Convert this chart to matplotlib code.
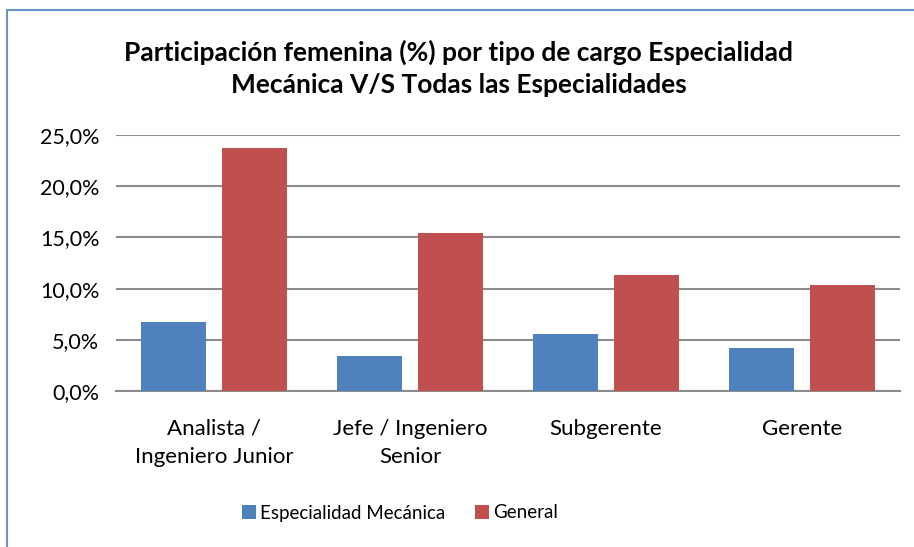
import matplotlib.pyplot as plt
import numpy as np
from matplotlib.patches import Rectangle
from matplotlib.ticker import FuncFormatter

plt.rcParams['font.family'] = ['Lato', 'DejaVu Sans']

categories = ['Analista /\nIngeniero Junior', 'Jefe / Ingeniero\nSenior', 'Subgerente', 'Gerente']
mecanica = [6.7, 3.4, 5.6, 4.2]
general = [23.7, 15.4, 11.3, 10.4]
series_names = ['Especialidad Mecánica', 'General']
yticks = [0, 5, 10, 15, 20, 25]

fig = plt.figure(figsize=(9.14, 5.47), dpi=100)
ax = fig.add_axes([116 / 914, 1 - 391 / 547, (900 - 116) / 914, (391 - 135) / 547])

x = np.arange(len(categories))
w = 0.33
ax.bar(x - w / 2 - 0.04, mecanica, w, color='#4F81BD', label=series_names[0], zorder=3)
ax.bar(x + w / 2 + 0.04, general, w, color='#C0504D', label=series_names[1], zorder=3)

ax.set_xlim(-0.5, len(categories) - 0.5)
ax.set_ylim(0, 25)
ax.set_yticks(yticks)
ax.yaxis.set_major_formatter(FuncFormatter(lambda v, p: f'{v:.1f}%'.replace('.', ',')))
ax.set_xticks(x)
ax.set_xticklabels(categories, fontsize=16, linespacing=1.5)
ax.tick_params(axis='y', labelsize=15.5, length=0, pad=12)
ax.tick_params(axis='x', length=0, pad=20)
ax.grid(axis='y', color='#8C8C8C', linewidth=1.5, zorder=0)
for s in ['top', 'right', 'left']:
    ax.spines[s].set_visible(False)
ax.spines['bottom'].set_color('#8C8C8C')
ax.spines['bottom'].set_linewidth(1.5)

fig.text(459 / 914, 1 - 68 / 547, 'Participación femenina (%) por tipo de cargo Especialidad\nMecánica V/S Todas las Especialidades',
         ha='center', va='center', fontsize=19, fontweight='bold', linespacing=1.4)

fig.legend(loc='center', bbox_to_anchor=(400 / 914, 1 - 513 / 547), ncol=2, frameon=False,
           fontsize=13.5, handlelength=0.75, handleheight=0.75, handletextpad=0.2, columnspacing=1.6)

fig.patches.append(Rectangle((7 / 914, -0.1), 1.0, 1.1 - 10 / 547, transform=fig.transFigure,
                             fill=False, edgecolor='#6A93C8', linewidth=1.5))

fig.savefig('out.png', dpi=100)
